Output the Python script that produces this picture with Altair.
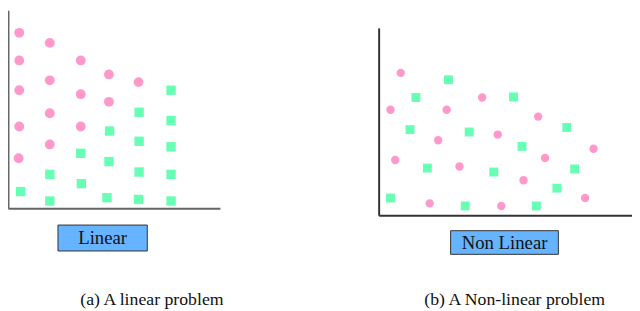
import altair as alt
import pandas as pd

# ---- data (arbitrary units) ----
left_pink_x = [0.57, 2.12, 0.57, 3.69, 5.12, 2.12, 6.62, 0.57, 3.69, 5.12, 2.12, 0.57, 3.69, 2.12, 0.54]
left_pink_y = [8.90, 8.39, 7.50, 7.50, 6.79, 6.49, 6.40, 5.99, 5.79, 5.40, 4.82, 4.15, 4.15, 3.24, 2.54]

left_green_x = [8.27, 6.65, 8.27, 5.15, 6.65, 8.27, 3.69, 5.12, 2.12, 6.65, 8.27, 3.72, 0.64, 2.12, 5.02, 6.62, 8.27]
left_green_y = [5.99, 4.87, 4.45, 3.92, 3.40, 3.12, 2.79, 2.37, 1.72, 1.84, 1.72, 1.25, 0.85, 0.37, 0.54, 0.45, 0.37]

right_pink_x = [1.12, 0.60, 3.45, 5.25, 8.09, 6.04, 3.02, 10.90, 0.84, 4.10, 8.44, 7.35, 10.47, 2.59, 6.22]
right_pink_y = [7.22, 5.35, 5.35, 5.97, 5.00, 4.09, 3.80, 3.37, 2.80, 2.47, 2.90, 1.77, 0.87, 0.60, 0.47]

right_green_x = [3.54, 1.89, 6.84, 1.59, 4.59, 9.54, 7.27, 2.47, 5.84, 9.94, 9.04, 0.60, 4.39, 8.00]
right_green_y = [6.87, 5.97, 6.00, 4.34, 4.22, 4.45, 3.49, 2.39, 2.19, 2.35, 1.37, 0.87, 0.47, 0.47]

box_labels = ["Linear", "Non Linear"]
captions = ["(a) A linear problem", "(b) A Non-linear problem"]

PINK = "#ff99cc"
GREEN = "#66ffb3"
BOX = "#66b3ff"
FONT = "Liberation Serif"


def panel(px, py, gx, gy, label, caption, width, height, xdom, ydom, yrange,
          axis_color, circ_size, sq_size, box, text_pos, cap_pos):
    pink = pd.DataFrame({"x": px, "y": py})
    green = pd.DataFrame({"x": gx, "y": gy})
    ax = alt.Axis(title=None, labels=False, ticks=False, grid=False,
                  domainColor=axis_color, domainWidth=2)
    yscale = alt.Scale(domain=ydom, nice=False, zero=False, range=yrange) if yrange else \
        alt.Scale(domain=ydom, nice=False, zero=False)
    X = alt.X("x:Q", scale=alt.Scale(domain=xdom, nice=False, zero=False), axis=ax)
    Y = alt.Y("y:Q", scale=yscale, axis=ax)

    p = alt.Chart(pink).mark_circle(color=PINK, opacity=1, size=circ_size).encode(x=X, y=Y)
    g = alt.Chart(green).mark_square(color=GREEN, opacity=1, size=sq_size).encode(x=X, y=Y)

    lab = pd.DataFrame({"label": [label]})
    cap = pd.DataFrame({"caption": [caption]})
    rect = alt.Chart(lab).mark_rect(fill=BOX, stroke="#333333", strokeWidth=1).encode(
        x=alt.value(box[0]), x2=alt.value(box[1]), y=alt.value(box[2]), y2=alt.value(box[3]))
    txt = alt.Chart(lab).mark_text(font=FONT, fontSize=19, color="#111111",
                                   align="center", baseline="middle").encode(
        text="label:N", x=alt.value(text_pos[0]), y=alt.value(text_pos[1]))
    ctxt = alt.Chart(cap).mark_text(font=FONT, fontSize=18, color="#111111",
                                    align="center", baseline="middle").encode(
        text="caption:N", x=alt.value(cap_pos[0]), y=alt.value(cap_pos[1]))
    return alt.layer(p, g, rect, txt, ctxt).properties(width=width, height=height)


left = panel(left_pink_x, left_pink_y, left_green_x, left_green_y,
             box_labels[0], captions[0], 215, 201, [0, 10.75], [0, 10.05], None,
             "#666666", 100, 90,
             (50.7, 141.3, 218, 244.3), (96, 231.5), (146, 294))

right = panel(right_pink_x, right_pink_y, right_green_x, right_green_y,
              box_labels[1], captions[1], 257, 208, [0, 12.85], [0, 9.5], [208, 18],
              "#333333", 72, 81,
              (73, 182.3, 223.7, 247.7), (127.7, 236), (138, 294))

chart = alt.hconcat(left, right, spacing=161, bounds="flush", padding=0).configure_view(stroke=None)

chart.save("out.html", embed_options={"renderer": "svg", "actions": False})
